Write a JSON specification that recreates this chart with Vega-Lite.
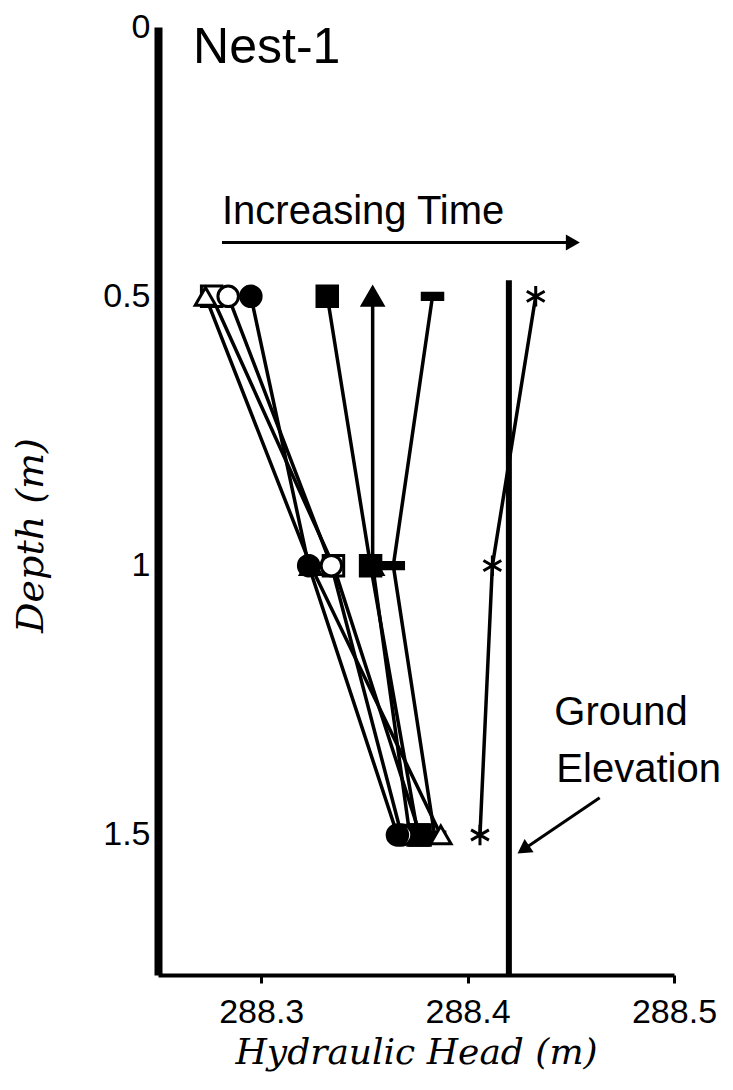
{
  "$schema": "https://vega.github.io/schema/vega-lite/v6.json",
  "width": 516,
  "height": 948,
  "autosize": {"type": "none"},
  "padding": {"left": 158, "top": 27, "right": 59, "bottom": 115},
  "background": "white",
  "config": {"view": {"stroke": null}, "font": "Liberation Sans"},
  "datasets": {
    "obs": [
      {"series": "open square", "depth": 0.5, "head": 288.276},
      {"series": "open square", "depth": 1.0, "head": 288.335},
      {"series": "open square", "depth": 1.5, "head": 288.377},
      {"series": "dash", "depth": 0.5, "head": 288.383},
      {"series": "dash", "depth": 1.0, "head": 288.364},
      {"series": "dash", "depth": 1.5, "head": 288.384},
      {"series": "filled square", "depth": 0.5, "head": 288.332},
      {"series": "filled square", "depth": 1.0, "head": 288.353},
      {"series": "filled square", "depth": 1.5, "head": 288.376},
      {"series": "filled triangle", "depth": 0.5, "head": 288.354},
      {"series": "filled triangle", "depth": 1.0, "head": 288.354},
      {"series": "filled triangle", "depth": 1.5, "head": 288.372},
      {"series": "star", "depth": 0.5, "head": 288.433},
      {"series": "star", "depth": 1.0, "head": 288.412},
      {"series": "star", "depth": 1.5, "head": 288.406},
      {"series": "open triangle", "depth": 0.5, "head": 288.273},
      {"series": "open triangle", "depth": 1.0, "head": 288.324},
      {"series": "open triangle", "depth": 1.5, "head": 288.387},
      {"series": "open circle", "depth": 0.5, "head": 288.284},
      {"series": "open circle", "depth": 1.0, "head": 288.334},
      {"series": "open circle", "depth": 1.5, "head": 288.368},
      {"series": "filled circle", "depth": 0.5, "head": 288.295},
      {"series": "filled circle", "depth": 1.0, "head": 288.323},
      {"series": "filled circle", "depth": 1.5, "head": 288.366}
    ],
    "ground": [{"head": 288.42, "top": 0.47, "bottom": 1.76}],
    "timeArrow": [
      {"head": 288.281, "depth": 0.4},
      {"head": 288.450, "depth": 0.4}
    ],
    "timeHead": [{"head": 288.451, "depth": 0.4}],
    "groundArrow": [
      {"head": 288.464, "depth": 1.431},
      {"head": 288.429, "depth": 1.522}
    ],
    "groundHead": [{"head": 288.427, "depth": 1.527}],
    "labels": [
      {"text": "Nest-1", "head": 288.267, "depth": 0.039, "kind": "title"},
      {"text": "Increasing Time", "head": 288.281, "depth": 0.344, "kind": "note"},
      {"text": "Ground", "head": 288.442, "depth": 1.274, "kind": "note"},
      {"text": "Elevation", "head": 288.443, "depth": 1.380, "kind": "note"}
    ]
  },
  "encoding": {
    "x": {
      "field": "head", "type": "quantitative",
      "scale": {"domain": [288.25, 288.5], "nice": false, "zero": false},
      "axis": {
        "values": [288.3, 288.4, 288.5], "format": ".1f",
        "title": "Hydraulic Head (m)",
        "titleFont": "DejaVu Serif", "titleFontStyle": "italic", "titleFontWeight": "normal",
        "titleFontSize": 36, "titleColor": "black", "titlePadding": 6,
        "labelFontSize": 34, "labelColor": "black", "labelPadding": 12, "labelFlush": false,
        "domainColor": "black", "domainWidth": 4, "tickColor": "black", "tickWidth": 3, "tickSize": 8,
        "grid": false
      }
    },
    "y": {
      "field": "depth", "type": "quantitative",
      "scale": {"domain": [0, 1.76], "reverse": true, "nice": false, "zero": false},
      "axis": {
        "values": [0, 0.5, 1, 1.5], "format": "~g",
        "title": "Depth (m)",
        "titleFont": "DejaVu Serif", "titleFontStyle": "italic", "titleFontWeight": "normal",
        "titleFontSize": 38, "titleColor": "black", "titlePadding": 52, "titleY": 508,
        "labelFontSize": 34, "labelColor": "black", "labelPadding": 8, "labelFlush": false,
        "domainColor": "black", "domainWidth": 8, "ticks": false,
        "grid": false
      }
    }
  },
  "layer": [
    {
      "data": {"name": "ground"},
      "mark": {"type": "rule", "color": "black", "strokeWidth": 6},
      "encoding": {
        "y": {"field": "top", "type": "quantitative"},
        "y2": {"field": "bottom"}
      }
    },
    {
      "data": {"name": "obs"},
      "mark": {"type": "line", "color": "black", "strokeWidth": 3.5},
      "encoding": {
        "detail": {"field": "series"},
        "order": {"field": "depth", "type": "quantitative"}
      }
    },
    {
      "data": {"name": "obs"},
      "mark": {"type": "point", "filled": true, "stroke": "black", "strokeWidth": 3, "opacity": 1, "size": 420},
      "encoding": {
        "shape": {
          "field": "series", "type": "nominal", "legend": null,
          "scale": {
            "domain": ["open triangle", "open circle", "filled circle", "open square", "filled square", "filled triangle", "dash", "star"],
            "range": ["triangle-up", "circle", "circle", "square", "square", "triangle-up", "M-1,-0.3L1,-0.3L1,0.3L-1,0.3Z", "M0,-1L0,1M-0.87,-0.5L0.87,0.5M-0.87,0.5L0.87,-0.5"]
          }
        },
        "fill": {
          "field": "series", "type": "nominal", "legend": null,
          "scale": {
            "domain": ["open triangle", "open circle", "filled circle", "open square", "filled square", "filled triangle", "dash", "star"],
            "range": ["white", "white", "black", "white", "black", "black", "black", "white"]
          }
        }
      }
    },
    {
      "data": {"name": "timeArrow"},
      "mark": {"type": "line", "color": "black", "strokeWidth": 3},
      "encoding": {}
    },
    {
      "data": {"name": "timeHead"},
      "mark": {"type": "point", "shape": "triangle-right", "filled": true, "color": "black", "size": 260, "opacity": 1},
      "encoding": {}
    },
    {
      "data": {"name": "groundArrow"},
      "mark": {"type": "line", "color": "black", "strokeWidth": 3},
      "encoding": {}
    },
    {
      "data": {"name": "groundHead"},
      "mark": {"type": "point", "shape": "triangle-up", "filled": true, "color": "black", "size": 260, "angle": 236, "opacity": 1},
      "encoding": {}
    },
    {
      "data": {"name": "labels"},
      "transform": [{"filter": "datum.kind == 'title'"}],
      "mark": {"type": "text", "align": "left", "baseline": "middle", "fontSize": 50, "color": "black", "font": "Liberation Sans"},
      "encoding": {"text": {"field": "text"}}
    },
    {
      "data": {"name": "labels"},
      "transform": [{"filter": "datum.kind == 'note'"}],
      "mark": {"type": "text", "align": "left", "baseline": "middle", "fontSize": 40, "color": "black", "font": "Liberation Sans"},
      "encoding": {"text": {"field": "text"}}
    }
  ]
}
